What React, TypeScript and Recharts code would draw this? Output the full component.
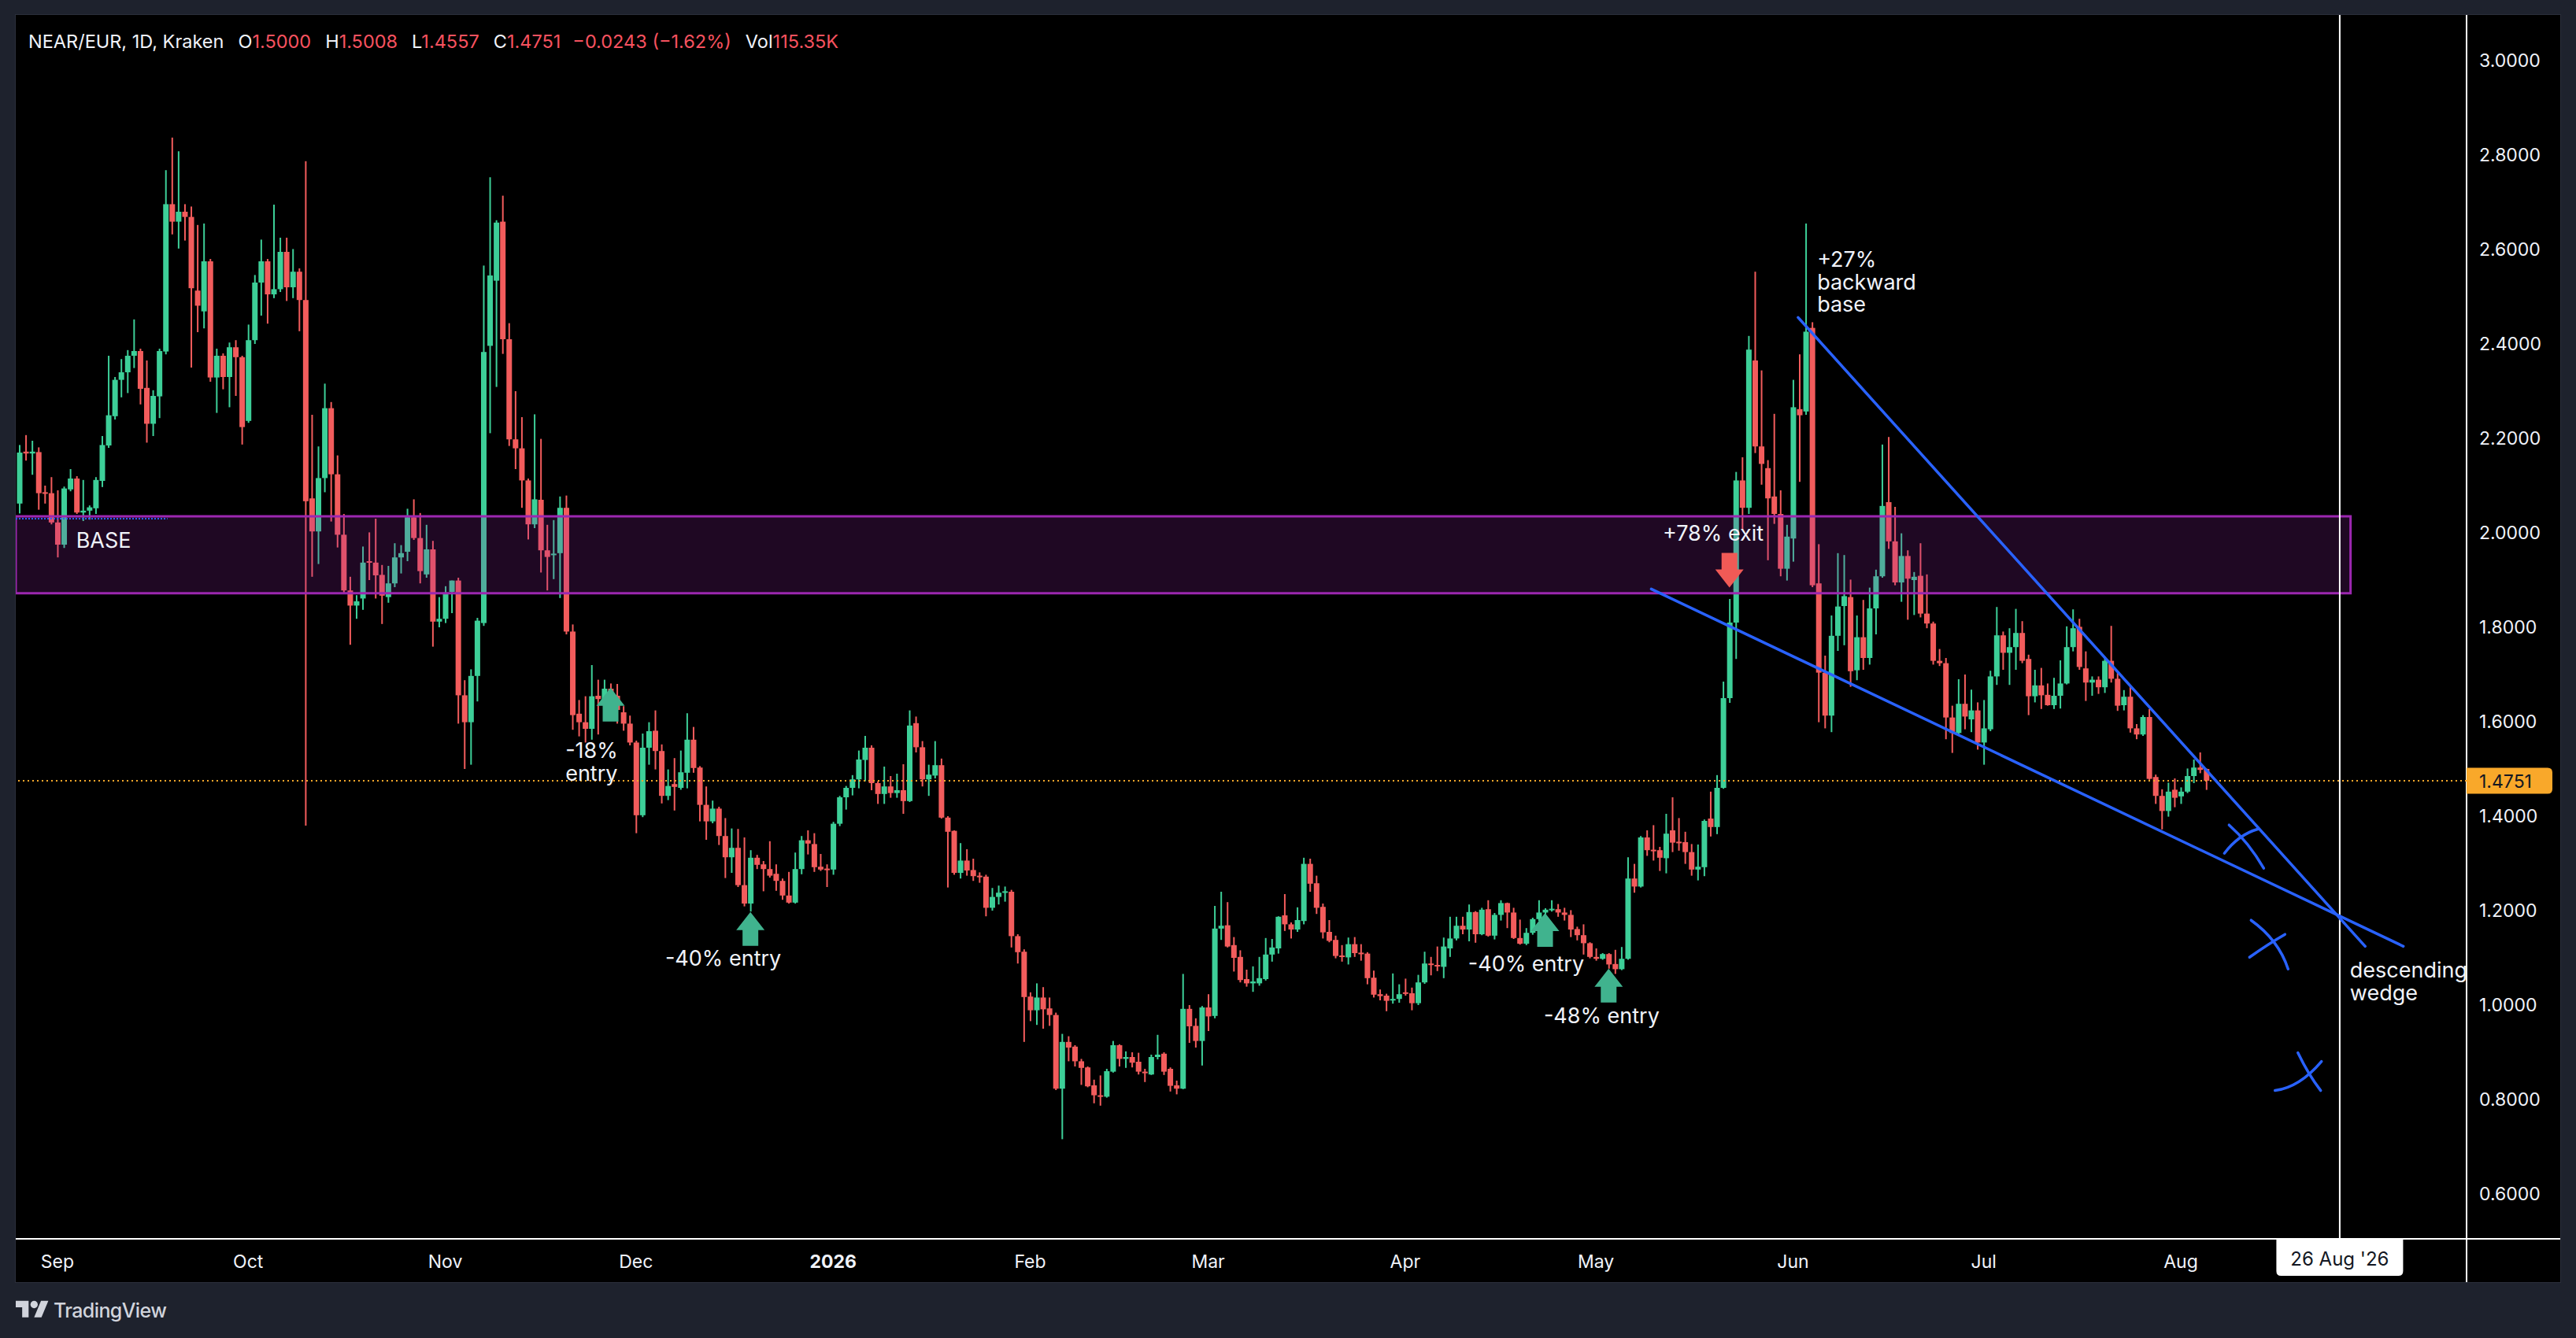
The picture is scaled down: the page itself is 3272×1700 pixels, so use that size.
import React from "react"
import {
  ComposedChart, Bar, XAxis, YAxis, ReferenceArea, ReferenceLine, ReferenceDot
} from "recharts"

// NEAR/EUR daily candles, [open, high, low, close], one row per day from 26 Aug 2025
const aug25 = [
  [2.062, 2.186, 2.041, 2.170], [2.172, 2.207, 2.153, 2.168], [2.168, 2.195, 2.123, 2.172],
  [2.171, 2.181, 2.049, 2.084], [2.086, 2.100, 2.062, 2.083], [2.084, 2.118, 2.018, 2.022],
]
const sep25 = [
  [2.022, 2.090, 1.948, 1.975], [1.975, 2.098, 1.968, 2.094], [2.092, 2.135, 2.088, 2.115],
  [2.115, 2.120, 2.040, 2.043], [2.043, 2.112, 2.025, 2.047], [2.047, 2.058, 2.028, 2.054],
  [2.052, 2.118, 2.040, 2.112], [2.110, 2.205, 2.097, 2.186], [2.185, 2.375, 2.180, 2.249],
  [2.247, 2.330, 2.240, 2.324], [2.324, 2.368, 2.287, 2.340], [2.340, 2.387, 2.296, 2.375],
  [2.375, 2.452, 2.349, 2.385], [2.385, 2.390, 2.272, 2.305], [2.307, 2.365, 2.191, 2.231],
  [2.231, 2.302, 2.205, 2.290], [2.289, 2.390, 2.243, 2.385], [2.384, 2.768, 2.378, 2.696],
  [2.696, 2.837, 2.632, 2.659], [2.659, 2.808, 2.602, 2.680], [2.680, 2.696, 2.619, 2.669],
  [2.669, 2.691, 2.350, 2.518], [2.513, 2.652, 2.425, 2.481], [2.469, 2.655, 2.433, 2.575],
  [2.575, 2.580, 2.320, 2.329], [2.329, 2.390, 2.254, 2.375], [2.375, 2.380, 2.304, 2.330],
  [2.330, 2.403, 2.266, 2.393], [2.393, 2.408, 2.290, 2.372], [2.372, 2.375, 2.187, 2.224],
]
const oct25 = [
  [2.237, 2.441, 2.233, 2.408], [2.408, 2.546, 2.400, 2.530], [2.530, 2.621, 2.460, 2.575],
  [2.575, 2.580, 2.443, 2.505], [2.505, 2.695, 2.497, 2.516], [2.516, 2.625, 2.510, 2.595],
  [2.595, 2.625, 2.491, 2.520], [2.520, 2.601, 2.497, 2.553], [2.553, 2.560, 2.427, 2.493],
  [2.493, 2.787, 1.380, 2.067], [2.073, 2.250, 1.907, 2.003], [2.003, 2.183, 1.934, 2.116],
  [2.116, 2.316, 2.086, 2.264], [2.264, 2.277, 2.024, 2.124], [2.124, 2.164, 1.969, 1.996],
  [1.996, 2.040, 1.870, 1.878], [1.878, 1.907, 1.763, 1.846], [1.846, 1.868, 1.818, 1.855],
  [1.861, 1.971, 1.837, 1.937], [1.940, 2.001, 1.900, 1.937], [1.937, 2.030, 1.861, 1.910],
  [1.911, 1.932, 1.807, 1.867], [1.864, 1.930, 1.852, 1.893], [1.893, 1.978, 1.885, 1.948],
  [1.948, 1.974, 1.914, 1.957], [1.960, 2.051, 1.940, 2.033], [2.033, 2.071, 1.985, 1.989],
  [1.989, 2.042, 1.893, 1.919], [1.912, 2.017, 1.905, 1.965], [1.965, 1.983, 1.759, 1.812],
  [1.812, 1.864, 1.800, 1.818],
]
const nov25 = [
  [1.818, 1.887, 1.809, 1.870], [1.875, 1.899, 1.830, 1.899], [1.899, 1.905, 1.596, 1.656],
  [1.656, 1.688, 1.500, 1.599], [1.599, 1.711, 1.509, 1.697], [1.697, 1.820, 1.643, 1.814],
  [1.809, 2.566, 1.803, 2.383], [2.396, 2.753, 2.211, 2.545], [2.534, 2.662, 2.309, 2.657],
  [2.659, 2.714, 2.379, 2.410], [2.410, 2.444, 2.184, 2.198], [2.198, 2.300, 2.135, 2.179],
  [2.179, 2.245, 2.053, 2.111], [2.111, 2.115, 1.986, 2.018], [2.018, 2.251, 2.010, 2.071],
  [2.070, 2.199, 1.916, 1.963], [1.963, 2.017, 1.878, 1.949], [1.953, 2.027, 1.902, 1.956],
  [1.957, 2.077, 1.862, 2.053], [2.053, 2.079, 1.785, 1.791], [1.791, 1.806, 1.583, 1.614],
  [1.617, 1.646, 1.569, 1.599], [1.599, 1.654, 1.556, 1.585], [1.585, 1.720, 1.562, 1.654],
  [1.655, 1.689, 1.573, 1.648], [1.648, 1.689, 1.620, 1.670], [1.670, 1.681, 1.610, 1.655],
  [1.655, 1.680, 1.596, 1.625], [1.620, 1.633, 1.581, 1.596], [1.596, 1.613, 1.550, 1.556],
]
const dec25 = [
  [1.556, 1.560, 1.364, 1.402], [1.402, 1.575, 1.398, 1.545], [1.545, 1.599, 1.509, 1.580],
  [1.581, 1.624, 1.499, 1.538], [1.538, 1.552, 1.427, 1.443], [1.443, 1.499, 1.434, 1.464],
  [1.468, 1.523, 1.412, 1.462], [1.460, 1.539, 1.456, 1.493], [1.492, 1.618, 1.459, 1.562],
  [1.562, 1.589, 1.492, 1.502], [1.503, 1.506, 1.389, 1.424], [1.424, 1.463, 1.350, 1.389],
  [1.389, 1.433, 1.385, 1.416], [1.416, 1.420, 1.339, 1.358], [1.358, 1.396, 1.269, 1.313],
  [1.313, 1.374, 1.280, 1.333], [1.333, 1.373, 1.250, 1.254], [1.254, 1.355, 1.209, 1.215],
  [1.215, 1.328, 1.198, 1.312], [1.312, 1.318, 1.288, 1.297], [1.298, 1.305, 1.241, 1.288],
  [1.288, 1.347, 1.270, 1.274], [1.278, 1.298, 1.242, 1.263], [1.263, 1.268, 1.223, 1.232],
  [1.232, 1.282, 1.215, 1.217], [1.217, 1.323, 1.215, 1.288], [1.288, 1.358, 1.277, 1.349],
  [1.349, 1.370, 1.319, 1.342], [1.341, 1.364, 1.282, 1.292], [1.293, 1.320, 1.284, 1.287],
  [1.289, 1.298, 1.250, 1.287],
]
const jan26 = [
  [1.287, 1.388, 1.276, 1.384], [1.384, 1.443, 1.379, 1.440], [1.440, 1.464, 1.414, 1.460],
  [1.460, 1.487, 1.444, 1.478], [1.478, 1.539, 1.459, 1.520], [1.519, 1.570, 1.474, 1.545],
  [1.545, 1.550, 1.455, 1.470], [1.470, 1.474, 1.426, 1.447], [1.447, 1.505, 1.426, 1.463],
  [1.463, 1.485, 1.439, 1.449], [1.449, 1.490, 1.439, 1.455], [1.455, 1.510, 1.405, 1.432],
  [1.432, 1.624, 1.430, 1.592], [1.597, 1.611, 1.535, 1.546], [1.546, 1.559, 1.463, 1.478],
  [1.478, 1.509, 1.443, 1.488], [1.486, 1.559, 1.480, 1.508], [1.508, 1.522, 1.395, 1.397],
  [1.397, 1.400, 1.249, 1.367], [1.369, 1.370, 1.276, 1.280], [1.280, 1.343, 1.268, 1.306],
  [1.306, 1.330, 1.274, 1.285], [1.286, 1.310, 1.263, 1.273], [1.274, 1.281, 1.259, 1.272],
  [1.272, 1.276, 1.188, 1.206], [1.206, 1.248, 1.200, 1.229], [1.229, 1.253, 1.213, 1.238],
  [1.239, 1.251, 1.219, 1.241], [1.240, 1.244, 1.122, 1.146], [1.146, 1.150, 1.088, 1.112],
  [1.113, 1.118, 0.922, 1.017],
]
const feb26 = [
  [1.018, 1.027, 0.966, 0.989], [0.989, 1.046, 0.958, 1.016], [1.016, 1.038, 0.950, 0.991],
  [0.993, 1.016, 0.956, 0.979], [0.979, 0.984, 0.820, 0.823], [0.823, 0.939, 0.716, 0.922],
  [0.922, 0.934, 0.881, 0.910], [0.912, 0.915, 0.870, 0.881], [0.881, 0.886, 0.831, 0.867],
  [0.868, 0.870, 0.826, 0.828], [0.830, 0.842, 0.792, 0.809], [0.809, 0.851, 0.787, 0.808],
  [0.806, 0.865, 0.804, 0.860], [0.859, 0.924, 0.857, 0.915], [0.915, 0.917, 0.870, 0.886],
  [0.886, 0.902, 0.867, 0.890], [0.890, 0.900, 0.868, 0.878], [0.880, 0.899, 0.853, 0.859],
  [0.859, 0.865, 0.837, 0.856], [0.853, 0.895, 0.852, 0.890], [0.890, 0.937, 0.885, 0.895],
  [0.897, 0.900, 0.852, 0.859], [0.865, 0.868, 0.817, 0.829], [0.830, 0.840, 0.811, 0.823],
  [0.823, 1.066, 0.822, 0.992], [0.992, 1.000, 0.920, 0.955], [0.956, 0.972, 0.910, 0.924],
  [0.924, 0.998, 0.872, 0.995],
]
const mar26 = [
  [0.995, 1.023, 0.945, 0.976], [0.977, 1.210, 0.972, 1.162], [1.162, 1.240, 1.138, 1.168],
  [1.169, 1.218, 1.122, 1.124], [1.127, 1.144, 1.071, 1.100], [1.102, 1.116, 1.048, 1.053],
  [1.055, 1.075, 1.039, 1.046], [1.046, 1.082, 1.028, 1.050], [1.046, 1.102, 1.041, 1.057],
  [1.055, 1.142, 1.052, 1.107], [1.107, 1.140, 1.092, 1.122], [1.120, 1.188, 1.109, 1.187],
  [1.190, 1.235, 1.157, 1.171], [1.171, 1.175, 1.141, 1.160], [1.160, 1.207, 1.155, 1.180],
  [1.178, 1.312, 1.171, 1.299], [1.299, 1.310, 1.240, 1.257], [1.258, 1.274, 1.193, 1.206],
  [1.208, 1.215, 1.141, 1.154], [1.155, 1.180, 1.133, 1.136], [1.138, 1.147, 1.099, 1.104],
  [1.105, 1.127, 1.092, 1.104], [1.101, 1.143, 1.086, 1.129], [1.129, 1.144, 1.102, 1.110],
  [1.111, 1.129, 1.094, 1.110], [1.109, 1.112, 1.044, 1.057], [1.058, 1.073, 1.016, 1.022],
  [1.023, 1.033, 1.010, 1.019], [1.020, 1.024, 0.987, 1.009], [1.010, 1.067, 1.003, 1.013],
  [1.013, 1.044, 1.005, 1.023],
]
const apr26 = [
  [1.027, 1.056, 1.020, 1.024], [1.025, 1.037, 0.989, 1.004], [1.004, 1.064, 1.000, 1.048],
  [1.048, 1.113, 1.045, 1.088], [1.088, 1.102, 1.063, 1.085], [1.085, 1.124, 1.072, 1.083],
  [1.081, 1.143, 1.057, 1.124], [1.120, 1.187, 1.102, 1.141], [1.141, 1.187, 1.137, 1.168],
  [1.168, 1.187, 1.150, 1.160], [1.160, 1.213, 1.135, 1.197], [1.197, 1.199, 1.132, 1.150],
  [1.150, 1.206, 1.148, 1.202], [1.203, 1.222, 1.145, 1.147], [1.147, 1.195, 1.139, 1.191],
  [1.191, 1.222, 1.179, 1.216], [1.216, 1.217, 1.163, 1.196], [1.196, 1.206, 1.140, 1.142],
  [1.142, 1.181, 1.128, 1.130], [1.130, 1.163, 1.127, 1.153], [1.153, 1.185, 1.149, 1.182],
  [1.182, 1.222, 1.178, 1.196], [1.196, 1.205, 1.192, 1.202], [1.202, 1.222, 1.198, 1.204],
  [1.203, 1.214, 1.187, 1.196], [1.196, 1.206, 1.179, 1.191], [1.191, 1.201, 1.144, 1.160],
  [1.161, 1.166, 1.137, 1.148], [1.148, 1.171, 1.107, 1.131], [1.131, 1.133, 1.099, 1.102],
]
const may26 = [
  [1.102, 1.120, 1.094, 1.098], [1.098, 1.110, 1.096, 1.108], [1.108, 1.110, 1.077, 1.086],
  [1.087, 1.117, 1.066, 1.076], [1.076, 1.123, 1.074, 1.098], [1.098, 1.313, 1.096, 1.268],
  [1.268, 1.299, 1.238, 1.251], [1.251, 1.358, 1.249, 1.355], [1.355, 1.370, 1.316, 1.328],
  [1.329, 1.381, 1.306, 1.327], [1.328, 1.335, 1.284, 1.312], [1.311, 1.405, 1.279, 1.363],
  [1.370, 1.440, 1.324, 1.344], [1.346, 1.396, 1.327, 1.344], [1.345, 1.367, 1.299, 1.324],
  [1.324, 1.341, 1.274, 1.287], [1.287, 1.340, 1.264, 1.293], [1.292, 1.393, 1.273, 1.390],
  [1.395, 1.452, 1.357, 1.377], [1.377, 1.487, 1.362, 1.460], [1.460, 1.685, 1.458, 1.650],
  [1.650, 1.860, 1.640, 1.810], [1.810, 2.129, 1.733, 2.111], [2.111, 2.160, 2.007, 2.053],
  [2.053, 2.417, 2.040, 2.388], [2.365, 2.553, 2.169, 2.183], [2.183, 2.344, 2.102, 2.146],
  [2.137, 2.154, 1.942, 2.073], [2.077, 2.252, 2.019, 2.040], [2.040, 2.090, 1.908, 1.924],
  [1.924, 2.017, 1.899, 1.992],
]
const jun26 = [
  [1.988, 2.324, 1.939, 2.266], [2.262, 2.378, 2.108, 2.249], [2.257, 2.655, 2.250, 2.426],
  [2.434, 2.446, 1.885, 1.889], [1.893, 1.976, 1.599, 1.704], [1.704, 1.740, 1.586, 1.613],
  [1.613, 1.825, 1.578, 1.782], [1.782, 1.957, 1.750, 1.844], [1.845, 1.953, 1.762, 1.866],
  [1.864, 1.901, 1.674, 1.707], [1.709, 1.825, 1.688, 1.779], [1.779, 1.858, 1.710, 1.735],
  [1.735, 1.884, 1.721, 1.840], [1.840, 1.922, 1.785, 1.908], [1.908, 2.187, 1.905, 2.057],
  [2.065, 2.203, 1.966, 1.982], [1.982, 2.055, 1.889, 1.895], [1.895, 1.999, 1.854, 1.951],
  [1.951, 1.963, 1.816, 1.903], [1.900, 1.917, 1.826, 1.907], [1.909, 1.978, 1.821, 1.829],
  [1.829, 1.912, 1.798, 1.808], [1.808, 1.812, 1.721, 1.729], [1.729, 1.754, 1.718, 1.724],
  [1.724, 1.735, 1.563, 1.609], [1.609, 1.634, 1.534, 1.576], [1.576, 1.690, 1.570, 1.638],
  [1.638, 1.700, 1.584, 1.611], [1.605, 1.668, 1.578, 1.624], [1.624, 1.641, 1.541, 1.556],
]
const jul26 = [
  [1.556, 1.646, 1.509, 1.586], [1.584, 1.708, 1.580, 1.696], [1.696, 1.843, 1.678, 1.783],
  [1.783, 1.791, 1.710, 1.746], [1.746, 1.798, 1.678, 1.758], [1.758, 1.839, 1.710, 1.788],
  [1.788, 1.813, 1.724, 1.729], [1.733, 1.742, 1.614, 1.654], [1.654, 1.710, 1.641, 1.677],
  [1.677, 1.714, 1.627, 1.656], [1.657, 1.681, 1.634, 1.635], [1.635, 1.693, 1.627, 1.655],
  [1.655, 1.730, 1.628, 1.681], [1.681, 1.802, 1.679, 1.758], [1.758, 1.838, 1.749, 1.798],
  [1.801, 1.818, 1.710, 1.716], [1.713, 1.749, 1.644, 1.683], [1.683, 1.696, 1.655, 1.689],
  [1.689, 1.696, 1.659, 1.673], [1.673, 1.738, 1.661, 1.729], [1.729, 1.803, 1.683, 1.691],
  [1.691, 1.703, 1.623, 1.634], [1.635, 1.667, 1.624, 1.653], [1.653, 1.674, 1.577, 1.586],
  [1.586, 1.595, 1.563, 1.573], [1.573, 1.614, 1.570, 1.610], [1.610, 1.627, 1.477, 1.479],
  [1.483, 1.488, 1.426, 1.443], [1.443, 1.457, 1.372, 1.411], [1.411, 1.471, 1.399, 1.452],
  [1.456, 1.480, 1.419, 1.439],
]
const aug26 = [
  [1.442, 1.461, 1.426, 1.452], [1.452, 1.501, 1.449, 1.485], [1.485, 1.520, 1.470, 1.503],
  [1.503, 1.535, 1.491, 1.498], [1.500, 1.5008, 1.4557, 1.4751],
]

const MONTHS = [aug25, sep25, oct25, nov25, dec25, jan26, feb26, mar26, apr26, may26, jun26, jul26, aug26]

const DAY = 86400000
const FIRST_DAY = Date.UTC(2025, 7, 26)
const SEP_1 = Date.UTC(2025, 8, 1)

// d = days since 1 Sep 2025
const candles = MONTHS.flat().map(([open, high, low, close], i) => ({
  d: (FIRST_DAY + i * DAY - SEP_1) / DAY, open, high, low, close,
}))

const MONTH_TICKS = [0, 30, 61, 91, 122, 153, 181, 212, 242, 273, 303, 334]
const MONTH_LABELS = ["Sep", "Oct", "Nov", "Dec", "2026", "Feb", "Mar", "Apr", "May", "Jun", "Jul", "Aug"]
const PRICE_TICKS = [0.6, 0.8, 1.0, 1.2, 1.4, 1.6, 1.8, 2.0, 2.2, 2.4, 2.6, 2.8, 3.0]

const BASE_ZONE = { from: 1.872, to: 2.035, until: 360.7 }
const UPPER_WEDGE = [{ x: 273.8, y: 2.456 }, { x: 363.0, y: 1.1245 }]
const LOWER_WEDGE = [{ x: 250.7, y: 1.881 }, { x: 369.0, y: 1.1245 }]
const CURSOR_DAY = 359
const CURSOR_LABEL = "26 Aug '26"

const NOTES = [
  { d: 2.93, price: 1.968, lines: ["BASE"] },
  { d: 79.9, price: 1.523, lines: ["-18%", "entry"] },
  { d: 95.6, price: 1.083, lines: ["-40% entry"] },
  { d: 221.9, price: 1.072, lines: ["-40% entry"] },
  { d: 233.8, price: 0.962, lines: ["-48% entry"] },
  { d: 252.5, price: 1.983, lines: ["+78% exit"] },
  { d: 276.8, price: 2.563, lines: ["+27%", "backward", "base"] },
  { d: 360.6, price: 1.058, lines: ["descending", "wedge"] },
]
const ENTRY_ARROWS = [
  { d: 87, price: 1.672 }, { d: 109, price: 1.197 }, { d: 234, price: 1.195 }, { d: 244, price: 1.077 },
]
const EXIT_ARROWS = [{ d: 263, price: 1.884 }]
const CROSSES = [
  { d: 343.7, price: 1.353, strokes: ["M -17 -17 Q 8 5 27 38", "M -23 19 Q -5 -5 20 -12"] },
  { d: 348.4, price: 1.133, strokes: ["M -27 -28 Q 8 -3 20 34", "M -29 19 Q -5 2 16 -10"] },
  { d: 353.9, price: 0.859, strokes: ["M -12 -24 Q 2 5 17 24", "M -41 24 Q -10 20 18 -13"] },
]

const X_MIN = -6.563
const X_MAX = 378.95
const Y_MIN = 0.505
const Y_MAX = 3.0967

const UP = "#3dcf98"
const DOWN = "#f25c5c"
const BLUE = "#2962ff"
const PURPLE = "#9c27b0"
const ORANGE = "#f9a82a"
const TEXT = "#f0f3fa"
const FONT = "Inter, 'Noto Sans', sans-serif"

const last = candles[candles.length - 1]

function Candle(props: any) {
  const { x, y, width, height, payload } = props
  if (payload == null) return null
  const { open, close, high, low } = payload
  const color = close >= open ? UP : DOWN
  const ratio = high > low ? height / (high - low) : 0
  const bodyTop = y + (high - Math.max(open, close)) * ratio
  const bodyH = Math.max(Math.abs(open - close) * ratio, 2)
  const cx = x + width / 2
  return (
    <g>
      <rect x={cx - 1} y={y} width={2} height={Math.max(height, 1)} fill={color} />
      <rect x={x} y={bodyTop} width={width} height={bodyH} fill={color} />
    </g>
  )
}

function MonthTick(props: any) {
  const { x, y, payload } = props
  const label = MONTH_LABELS[MONTH_TICKS.indexOf(payload.value)]
  return (
    <text x={x} y={y + 29} textAnchor="middle" dominantBaseline="central" fill={TEXT}
      fontSize={23} fontFamily={FONT} fontWeight={label === "2026" ? 700 : 400}>
      {label}
    </text>
  )
}

function PriceTick(props: any) {
  const { x, y, payload } = props
  return (
    <text x={x + 16} y={y} dominantBaseline="central" fill={TEXT} fontSize={23} fontFamily={FONT}>
      {Number(payload.value).toFixed(4)}
    </text>
  )
}

function PriceTag(props: any) {
  const { viewBox } = props
  const x = viewBox.x + viewBox.width
  const y = viewBox.y
  const w = 109, h = 33, r = 6
  return (
    <g>
      <path d={`M ${x} ${y - h / 2} H ${x + w - r} Q ${x + w} ${y - h / 2} ${x + w} ${y - h / 2 + r} V ${y + h / 2 - r} Q ${x + w} ${y + h / 2} ${x + w - r} ${y + h / 2} H ${x} Z`} fill={ORANGE} />
      <text x={x + 16} y={y + 1} dominantBaseline="central" fill="#131722" fontSize={23} fontFamily={FONT}>
        {last.close.toFixed(4)}
      </text>
    </g>
  )
}

function CursorTag(props: any) {
  const { viewBox } = props
  const x = viewBox.x
  const y = viewBox.y + viewBox.height + 1
  const w = 161, h = 46, r = 6
  return (
    <g>
      <path d={`M ${x - w / 2} ${y} H ${x + w / 2} V ${y + h - r} Q ${x + w / 2} ${y + h} ${x + w / 2 - r} ${y + h} H ${x - w / 2 + r} Q ${x - w / 2} ${y + h} ${x - w / 2} ${y + h - r} Z`} fill="#ffffff" />
      <text x={x} y={y + 24} textAnchor="middle" dominantBaseline="central" fill="#131722" fontSize={24} fontFamily={FONT}>
        {CURSOR_LABEL}
      </text>
    </g>
  )
}

function noteShape(lines: string[]) {
  return (props: any) => (
    <text x={props.cx} y={props.cy} fill={TEXT} fontSize={27} fontFamily={FONT}>
      {lines.map((line, i) => (
        <tspan key={i} x={props.cx} dy={i === 0 ? 0 : 28.5}>{line}</tspan>
      ))}
    </text>
  )
}

function UpArrow(props: any) {
  const { cx, cy } = props
  return (
    <path d={`M ${cx} ${cy} L ${cx + 18} ${cy + 23} H ${cx + 10} V ${cy + 43} H ${cx - 10} V ${cy + 23} H ${cx - 18} Z`}
      fill="#40b38e" />
  )
}

function DownArrow(props: any) {
  const { cx, cy } = props
  return (
    <path d={`M ${cx} ${cy} L ${cx + 18} ${cy - 23} H ${cx + 10} V ${cy - 44} H ${cx - 10} V ${cy - 23} H ${cx - 18} Z`}
      fill="#f05a56" />
  )
}

function crossShape(strokes: string[]) {
  return (props: any) => (
    <g transform={`translate(${props.cx} ${props.cy})`}>
      {strokes.map((s, i) => (
        <path key={i} d={s} fill="none" stroke={BLUE} strokeWidth={3.5} strokeLinecap="round" />
      ))}
    </g>
  )
}

function Header() {
  const red = "#f7525f"
  const group = (k: string, v: string) => (
    <span style={{ marginLeft: 18 }}>
      <span style={{ color: TEXT }}>{k}</span>
      <span style={{ color: red }}>{v}</span>
    </span>
  )
  return (
    <div style={{
      position: "absolute", left: 16, top: 20, fontFamily: FONT, fontSize: 23.5,
      lineHeight: "28px", whiteSpace: "pre", color: TEXT, zIndex: 2,
    }}>
      <span>NEAR/EUR, 1D, Kraken</span>
      {group("O", "1.5000")}
      {group("H", "1.5008")}
      {group("L", "1.4557")}
      {group("C", last.close.toFixed(4))}
      <span style={{ marginLeft: 15, color: red }}>−0.0243 (−1.62%)</span>
      {group("Vol", "115.35K")}
    </div>
  )
}

export default function App() {
  return (
    <div style={{ position: "absolute", left: 0, top: 0, width: 3272, height: 1700, background: "#1e222d", overflow: "hidden" }}>
      <div style={{ position: "absolute", left: 19, top: 18, width: 3232, height: 1610, border: "1px solid #2b2f3b", background: "#000" }}>
        <ComposedChart width={3232} height={1610} data={candles} margin={{ top: 0, right: 0, bottom: 0, left: 0 }}>
          <XAxis type="number" dataKey="d" domain={[X_MIN, X_MAX]} allowDataOverflow ticks={MONTH_TICKS}
            interval={0} height={55} tick={<MonthTick />} tickLine={false} tickSize={0} tickMargin={0}
            axisLine={{ stroke: "#ffffff", strokeWidth: 2 }} />
          <YAxis orientation="right" type="number" domain={[Y_MIN, Y_MAX]} allowDataOverflow ticks={PRICE_TICKS}
            interval={0} width={119} tick={<PriceTick />} tickLine={false} tickSize={0} tickMargin={0}
            axisLine={{ stroke: "#ffffff", strokeWidth: 2 }} />

          <Bar dataKey={(c: any) => [c.low, c.high]} barSize={7} shape={Candle} isAnimationActive={false} />

          <ReferenceArea x1={X_MIN} x2={BASE_ZONE.until} y1={BASE_ZONE.from} y2={BASE_ZONE.to}
            fill={PURPLE} fillOpacity={0.2} stroke={PURPLE} strokeWidth={3} strokeOpacity={1} zIndex={450} />
          <ReferenceLine segment={[{ x: X_MIN, y: 2.030 }, { x: 17.3, y: 2.030 }]} stroke={BLUE}
            strokeWidth={2} strokeDasharray="2 2" zIndex={500} />

          <ReferenceLine y={last.close} stroke={ORANGE} strokeWidth={2} strokeDasharray="2 4"
            label={<PriceTag />} zIndex={500} />
          <ReferenceLine x={CURSOR_DAY} stroke="#ffffff" strokeWidth={2} label={<CursorTag />} zIndex={500} />

          <ReferenceLine segment={UPPER_WEDGE} stroke={BLUE} strokeWidth={3.5} strokeLinecap="round" zIndex={500} />
          <ReferenceLine segment={LOWER_WEDGE} stroke={BLUE} strokeWidth={3.5} strokeLinecap="round" zIndex={500} />

          {CROSSES.map((c, i) => (
            <ReferenceDot key={`x${i}`} x={c.d} y={c.price} r={1} shape={crossShape(c.strokes)} zIndex={600} />
          ))}
          {ENTRY_ARROWS.map((a, i) => (
            <ReferenceDot key={`e${i}`} x={a.d} y={a.price} r={1} shape={UpArrow} zIndex={600} />
          ))}
          {EXIT_ARROWS.map((a, i) => (
            <ReferenceDot key={`s${i}`} x={a.d} y={a.price} r={1} shape={DownArrow} zIndex={600} />
          ))}
          {NOTES.map((n, i) => (
            <ReferenceDot key={`n${i}`} x={n.d} y={n.price} r={1} ifOverflow="hidden"
              shape={noteShape(n.lines)} zIndex={700} />
          ))}
        </ComposedChart>
        <Header />
        {/* scale borders continue into the corner box */}
        <div style={{ position: "absolute", left: 3112, top: 1555, width: 2, height: 55, background: "#fff" }} />
        <div style={{ position: "absolute", left: 3113, top: 1554, width: 119, height: 2, background: "#fff" }} />
      </div>
      <svg style={{ position: "absolute", left: 20, top: 1648 }} width={42} height={33} viewBox="0 0 36 28">
        <path d="M14 22H7V11H0V4h14v18zM28 22h-8l7.5-18h8L28 22z" fill="#d1d4dc" />
        <circle cx={20} cy={8} r={4} fill="#d1d4dc" />
      </svg>
      <div style={{ position: "absolute", left: 68, top: 1650, fontFamily: FONT, fontSize: 25, fontWeight: 500, color: "#d1d4dc", letterSpacing: -0.6, lineHeight: "30px" }}>
        TradingView
      </div>
    </div>
  )
}
